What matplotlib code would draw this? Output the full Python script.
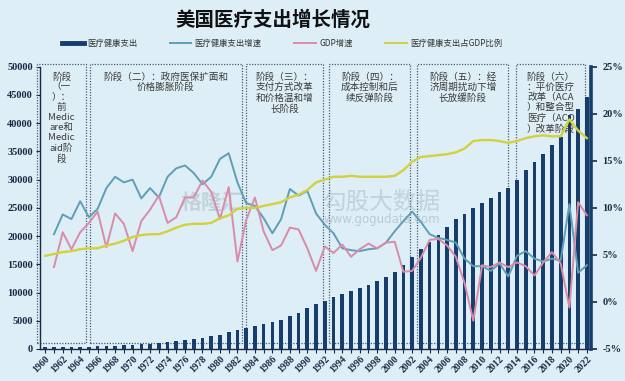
import matplotlib
matplotlib.use("Agg")
import matplotlib.pyplot as plt
from matplotlib.patches import Rectangle
from matplotlib.lines import Line2D
from matplotlib.ticker import MultipleLocator, FuncFormatter

plt.rcParams['font.family'] = ['Noto Sans CJK SC', 'DejaVu Sans']

# ---- 数据 ----
years = list(range(1960, 2023))
# 医疗健康支出（亿美元）
spending = [272, 291, 318, 346, 383, 419, 461, 517, 587, 661,
            746, 827, 927, 1028, 1165, 1333, 1527, 1739, 1953, 2216,
            2553, 2962, 3340, 3678, 4050, 4429, 4747, 5165, 5793, 6448,
            7197, 7881, 8539, 9165, 9672, 10216, 10744, 11355, 12000, 12745,
            13692, 14861, 16281, 17676, 18957, 20242, 21561, 22958, 23991, 24954,
            25936, 26765, 27833, 28558, 30014, 31636, 33056, 34465, 36045, 37574,
            41441, 42551, 44646]
# 医疗健康支出增速 %（1961起）
spend_growth = [7.2, 9.3, 8.8, 10.7, 9.0, 9.9, 12.1, 13.3, 12.7, 13.0,
                11.0, 12.1, 11.1, 13.3, 14.2, 14.5, 13.7, 12.5, 13.3, 15.2,
                15.8, 12.7, 10.5, 10.2, 8.9, 7.3, 8.8, 12.0, 11.3, 11.8,
                9.4, 8.2, 7.3, 5.7, 5.5, 5.4, 5.6, 5.7, 6.3, 7.5,
                8.6, 9.6, 8.5, 7.2, 6.8, 6.6, 6.3, 4.6, 3.8, 3.8,
                3.3, 4.1, 2.7, 4.9, 5.4, 4.6, 4.3, 4.6, 4.4, 10.4,
                3.1, 3.9]
# GDP增速 %（1961起）
gdp_growth = [3.7, 7.4, 5.6, 7.4, 8.4, 9.6, 5.8, 9.4, 8.3, 5.4,
              8.6, 9.8, 11.3, 8.4, 9.0, 11.1, 11.1, 12.9, 11.7, 8.8,
              12.2, 4.3, 8.7, 11.1, 7.5, 5.5, 6.0, 7.9, 7.7, 5.7,
              3.3, 5.9, 5.2, 6.1, 4.8, 5.6, 6.2, 5.7, 6.3, 6.4,
              3.2, 3.3, 4.7, 6.6, 6.7, 6.0, 4.8, 2.0, -2.0, 3.9,
              3.7, 4.2, 3.7, 4.2, 3.8, 2.8, 4.2, 5.3, 4.1, -0.6,
              10.6, 9.2]
# 医疗健康支出占GDP比例 %
gdp_share = [4.9, 5.1, 5.3, 5.4, 5.6, 5.7, 5.7, 6.0, 6.2, 6.5,
             6.9, 7.1, 7.2, 7.2, 7.5, 7.9, 8.2, 8.3, 8.3, 8.4,
             8.9, 9.2, 9.9, 10.0, 10.0, 10.2, 10.4, 10.6, 11.1, 11.4,
             11.9, 12.7, 13.0, 13.3, 13.3, 13.4, 13.3, 13.3, 13.3, 13.3,
             13.4, 14.0, 14.9, 15.4, 15.5, 15.6, 15.7, 15.9, 16.3, 17.1,
             17.2, 17.2, 17.1, 16.9, 17.1, 17.4, 17.6, 17.7, 17.6, 17.6,
             19.4, 18.2, 17.4]

phase_labels = [
    "阶段\n（一\n）：\n前\nMedic\nare和\nMedic\naid阶\n段",
    "阶段（二）：政府医保扩面和\n价格膨胀阶段",
    "阶段（三）：\n支付方式改革\n和价格温和增\n长阶段",
    "阶段（四）：\n成本控制和后\n续反弹阶段",
    "阶段（五）：经\n济周期扰动下增\n长放缓阶段",
    "阶段（六）\n：平价医疗\n改革（ACA\n）和整合型\n医疗（ACO\n）改革阶段",
]
phase_spans = [(1959.0, 1964.7), (1965.1, 1982.5), (1983.0, 1991.8),
               (1992.5, 2001.8), (2002.6, 2013.0), (2013.9, 2021.8)]

# ---- 样式 ----
BG = '#ddeef6'
NAVY = '#173d6c'
TEAL = '#5e9fb6'
PINK = '#d98ca8'
YELLOW = '#d4d03e'
NUMFONT = dict(family='Liberation Serif', weight='bold')

fig = plt.figure(figsize=(6.25, 3.81), dpi=100, facecolor=BG)
ax = fig.add_axes([0.064, 0.084, 0.882, 0.741])
ax.set_facecolor(BG)

ax.bar(years, spending, width=0.42, color=NAVY, zorder=3)
ax.set_xlim(1959.4, 2022.5)
ax.set_ylim(0, 50000)

# 阶段框
for (x0, x1), label in zip(phase_spans, phase_labels):
    ax.add_patch(Rectangle((x0, 1100), x1 - x0, 49300, fill=False,
                           ec='#4b5d75', lw=0.9, ls=(0, (1, 1.2)),
                           clip_on=False, zorder=2))
    ax.text((x0 + x1) / 2, 49100, label, ha='center', va='top',
            fontsize=6.9, color='#3a3a3a', linespacing=1.15, zorder=6)

# 水印
ax.text(1975.5, 26000, "格隆汇", fontsize=15, color='#9aa6b2', alpha=0.4,
        ha='left', va='center', fontweight='bold', zorder=7)
ax.text(1991.7, 26000, "勾股大数据", fontsize=17, color='#9aa6b2', alpha=0.4,
        ha='left', va='center', zorder=7)
ax.text(1991.9, 22900, "www.gogudata.com", fontsize=8.5, color='#9aa6b2',
        alpha=0.5, ha='left', va='center', family='DejaVu Sans', zorder=7)

ax2 = ax.twinx()
ax2.plot(years[1:], spend_growth, color=TEAL, lw=1.4, zorder=4)
ax2.plot(years[1:], gdp_growth, color=PINK, lw=1.4, zorder=4)
ax2.plot(years, gdp_share, color=YELLOW, lw=1.7, zorder=4)
ax2.set_ylim(-5, 25)

# 坐标轴
ax.xaxis.set_major_locator(MultipleLocator(2))
ax.xaxis.set_minor_locator(MultipleLocator(1))
ax.yaxis.set_major_locator(MultipleLocator(5000))
ax2.yaxis.set_major_locator(MultipleLocator(5))
ax2.yaxis.set_major_formatter(FuncFormatter(lambda v, p: f"{v:.0f}%"))

ax.tick_params(axis='x', which='both', direction='out', length=3, width=0.8,
               colors='#1a2a44', pad=1)
ax.tick_params(axis='y', direction='out', length=3, width=0.8, colors='#1a2a44', pad=2)
ax2.tick_params(axis='y', direction='out', length=4, width=1.2, colors='#1a2a44', pad=4)
plt.setp(ax.get_xticklabels(), rotation=45, ha='right', va='top',
         rotation_mode='anchor', fontsize=7, **NUMFONT)
plt.setp(ax.get_yticklabels(), fontsize=7.5, **NUMFONT)
plt.setp(ax2.get_yticklabels(), fontsize=7.5, **NUMFONT)

for a in (ax, ax2):
    a.spines['top'].set_visible(False)
ax.spines['left'].set_color('#1a2a44')
ax.spines['left'].set_linewidth(1.0)
ax.spines['bottom'].set_color('#1a2a44')
ax.spines['bottom'].set_linewidth(1.0)
ax2.spines['left'].set_visible(False)
ax2.spines['bottom'].set_visible(False)
ax2.spines['right'].set_color(NAVY)
ax2.spines['right'].set_linewidth(2.6)

# 标题与图例
fig.text(0.437, 0.948, "美国医疗支出增长情况", ha='center', va='center',
         fontsize=14, fontweight='bold', color='#111111')
handles = [Line2D([], [], color=NAVY, lw=3.5),
           Line2D([], [], color=TEAL, lw=1.4),
           Line2D([], [], color=PINK, lw=1.4),
           Line2D([], [], color=YELLOW, lw=1.4)]
names = ["医疗健康支出", "医疗健康支出增速", "GDP增速", "医疗健康支出占GDP比例"]
fig.legend(handles, names, loc='center left', bbox_to_anchor=(0.099, 0.887),
           ncol=4, frameon=False, fontsize=6, handlelength=2.6,
           handletextpad=0.4, columnspacing=3.9, borderpad=0, borderaxespad=0,
           labelcolor='#333333')

fig.savefig("out.png", dpi=100, facecolor=BG)
